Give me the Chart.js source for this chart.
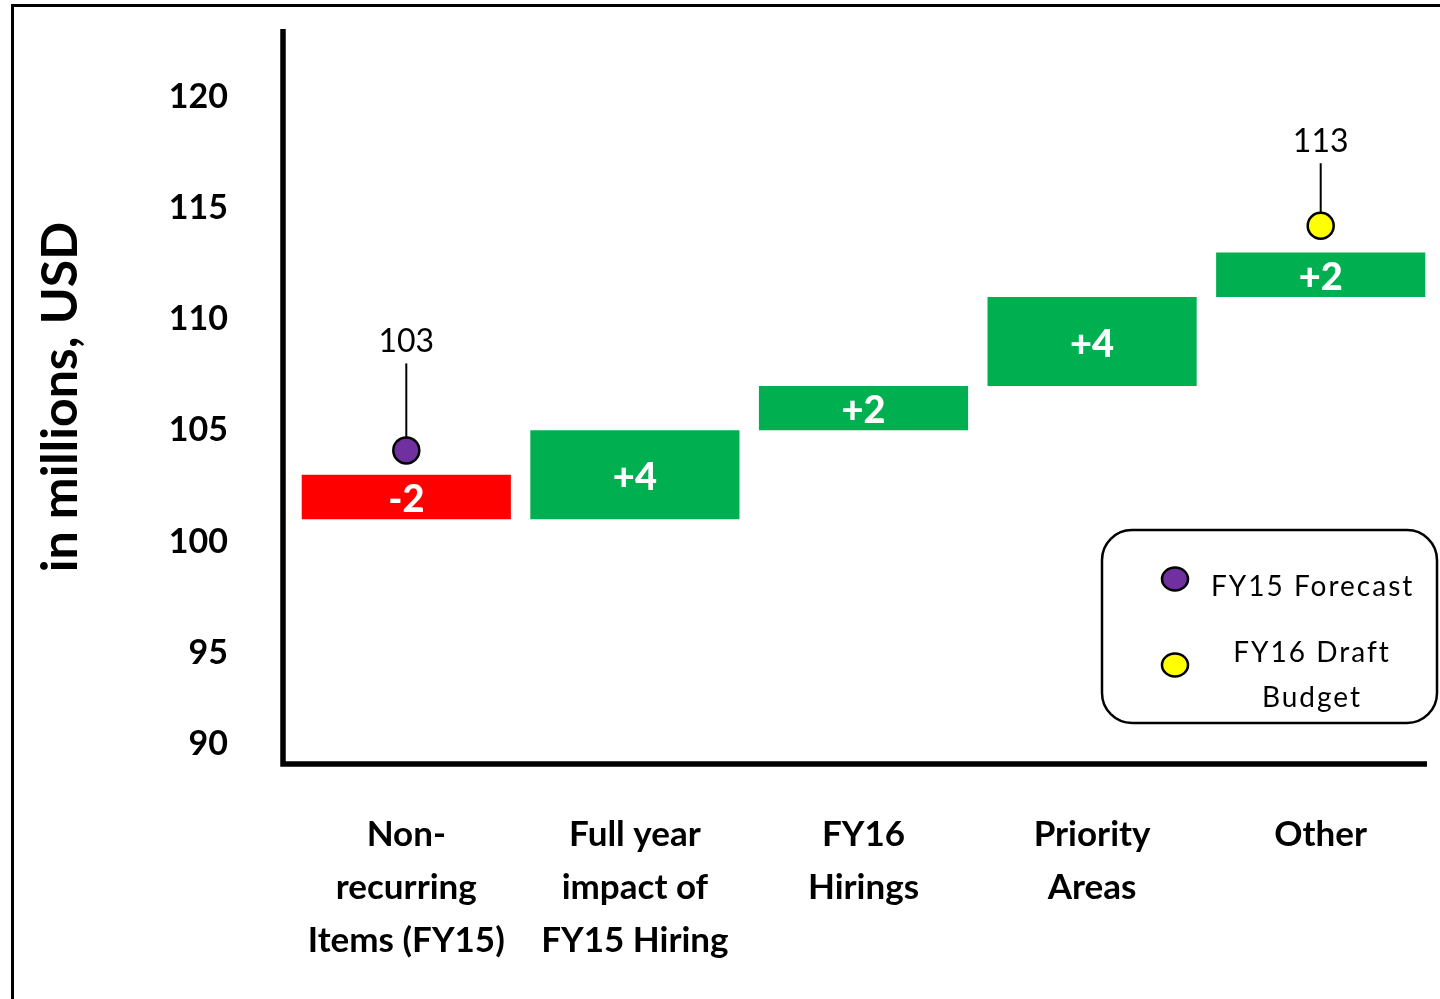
<!DOCTYPE html>
<html>
<head>
<meta charset="utf-8">
<script src="https://cdn.jsdelivr.net/npm/chart.js@4.4.1/dist/chart.umd.min.js"></script>
<style>
  body { margin: 0; background: #fff; }
  canvas { display: block; }
</style>
</head>
<body>
<canvas id="myChart" width="1440" height="999"></canvas>
<script>
const ctx = document.getElementById("myChart").getContext("2d");

const categories = [
  ["Non-", "recurring", "Items (FY15)"],
  ["Full year", "impact of", "FY15 Hiring"],
  ["FY16", "Hirings"],
  ["Priority", "Areas"],
  ["Other"],
];
const barFrom = [103, 101, 105, 107, 111];
const barTo = [101, 105, 107, 111, 113];
const changes = ["-2", "+4", "+2", "+4", "+2"];
const forecastDot = [104.1, null, null, null, null];
const budgetDot = [null, null, null, null, 114.2];
const forecastLabel = "103";
const budgetLabel = "113";
const yTicks = [90, 95, 100, 105, 110, 115, 120];

const FONT = "Lato, 'Open Sans', sans-serif";

// frame around the page and the two thick axis lines
const framePlugin = {
  id: "frame",
  beforeDraw(chart) {
    const c = chart.ctx;
    c.save();
    c.fillStyle = "#fff";
    c.fillRect(0, 0, chart.width, chart.height);
    c.strokeStyle = "#000";
    c.lineWidth = 3;
    c.beginPath();
    c.moveTo(12.5, 999);
    c.lineTo(12.5, 5.5);
    c.lineTo(1440, 5.5);
    c.stroke();
    c.restore();
  },
  afterDatasetsDraw(chart) {
    const c = chart.ctx;
    const a = chart.chartArea;
    c.save();
    c.strokeStyle = "#000";
    c.lineWidth = 5.5;
    c.beginPath();
    c.moveTo(a.left - 9, a.top - 1);
    c.lineTo(a.left - 9, a.bottom);
    c.lineTo(a.right - 8, a.bottom);
    c.stroke();
    c.restore();
  },
};

// white change labels inside the bars
const barLabels = {
  id: "barLabels",
  afterDatasetsDraw(chart) {
    const c = chart.ctx;
    const meta = chart.getDatasetMeta(0);
    c.save();
    c.fillStyle = "#fff";
    c.font = "900 38px " + FONT;
    c.textAlign = "center";
    c.textBaseline = "middle";
    meta.data.forEach((bar, i) => {
      c.fillText(changes[i], bar.x, (bar.y + bar.base) / 2 + 3);
    });
    c.restore();
  },
};

// callout line + value above each dot
const callouts = {
  id: "callouts",
  beforeDatasetsDraw(chart, args, opts) {
    const c = chart.ctx;
    const y = chart.scales.y;
    c.save();
    c.strokeStyle = "#000";
    c.lineWidth = 2;
    c.fillStyle = "#000";
    c.font = "32px " + FONT;
    c.textAlign = "center";
    c.textBaseline = "middle";
    opts.items.forEach((it) => {
      const meta = chart.getDatasetMeta(it.dataset);
      const vals = chart.data.datasets[it.dataset].data;
      const idx = vals.findIndex((v) => v !== null);
      const pt = meta.data[idx];
      const ty = y.getPixelForValue(it.level);
      c.beginPath();
      c.moveTo(pt.x, pt.y - 12);
      c.lineTo(pt.x, ty + 22);
      c.stroke();
      c.fillText(it.text, pt.x, ty);
    });
    c.restore();
  },
};

// rounded legend box in the lower right
const boxLegend = {
  id: "boxLegend",
  afterDraw(chart) {
    const c = chart.ctx;
    const ds = chart.data.datasets;
    c.save();
    c.strokeStyle = "#000";
    c.lineWidth = 2.5;
    c.beginPath();
    c.roundRect(1102, 530, 335, 193, 30);
    c.stroke();

    const dot = (x, y, color) => {
      c.beginPath();
      c.ellipse(x, y, 13, 11.5, 0, 0, Math.PI * 2);
      c.fillStyle = color;
      c.fill();
      c.lineWidth = 2.5;
      c.strokeStyle = "#000";
      c.stroke();
    };
    dot(1175, 579, ds[1].pointBackgroundColor);
    dot(1175, 665, ds[2].pointBackgroundColor);

    c.fillStyle = "#000";
    c.font = "28px " + FONT;
    c.letterSpacing = "2px";
    c.textBaseline = "middle";
    c.textAlign = "left";
    c.fillText(ds[1].label, 1211, 587);
    c.textAlign = "center";
    const parts = ds[2].label.split("\n");
    c.fillText(parts[0], 1312, 653);
    c.fillText(parts[1], 1312, 698);
    c.restore();
  },
};

const chart = new Chart(ctx, {
  type: "bar",
  data: {
    labels: categories,
    datasets: [
      {
        label: "Change",
        data: barFrom.map((v, i) => [v, barTo[i]]),
        backgroundColor: barFrom.map((v, i) => (barTo[i] < v ? "#FF0000" : "#00B050")),
        borderWidth: 0,
        barPercentage: 0.915,
        categoryPercentage: 1,
        grouped: false,
        order: 2,
      },
      {
        type: "line",
        label: "FY15 Forecast",
        data: forecastDot,
        showLine: false,
        pointRadius: 13,
        pointBackgroundColor: "#7030A0",
        pointBorderColor: "#000",
        pointBorderWidth: 2.5,
        order: 1,
      },
      {
        type: "line",
        label: "FY16 Draft\nBudget",
        data: budgetDot,
        showLine: false,
        pointRadius: 13,
        pointBackgroundColor: "#FFFF00",
        pointBorderColor: "#000",
        pointBorderWidth: 2.5,
        order: 1,
      },
    ],
  },
  options: {
    responsive: false,
    animation: false,
    devicePixelRatio: 1,
    layout: { autoPadding: false, padding: { top: 30, right: 5, bottom: 0, left: 0 } },
    plugins: {
      legend: { display: false },
      tooltip: { enabled: false },
      callouts: {
        items: [
          { dataset: 1, text: forecastLabel, level: 109 },
          { dataset: 2, text: budgetLabel, level: 118 },
        ],
      },
    },
    scales: {
      x: {
        grid: { display: false, drawTicks: false },
        border: { display: false },
        ticks: {
          color: "#000",
          padding: 44,
          maxRotation: 0,
          autoSkip: false,
          font: { family: FONT, size: 35, weight: "bold", lineHeight: 53 / 35 },
        },
        afterFit(scale) {
          scale.height = 235;
          scale.paddingLeft = 0;
          scale.paddingRight = 0;
          scale.paddingTop = 0;
          scale.paddingBottom = 0;
        },
      },
      y: {
        min: 90,
        max: 123,
        grid: { display: false, drawTicks: false },
        border: { display: false },
        afterBuildTicks(scale) {
          scale.ticks = yTicks.map((v) => ({ value: v }));
        },
        ticks: {
          color: "#000",
          padding: 64,
          font: { family: FONT, size: 34, weight: "bold" },
          // the bottom label sits a bit above the axis line
          callback: (v) => (v === 90 ? ["90", ""] : String(v)),
        },
        title: {
          display: true,
          text: "in millions, USD",
          color: "#000",
          padding: { top: 31, bottom: 0 },
          font: { family: FONT, size: 50, weight: "bold" },
        },
        afterFit(scale) {
          scale.width = 292;
          scale.paddingTop = 0;
          scale.paddingBottom = 0;
          scale.paddingLeft = 0;
          scale.paddingRight = 0;
        },
      },
    },
  },
  plugins: [framePlugin, barLabels, callouts, boxLegend],
});
</script>
</body>
</html>
